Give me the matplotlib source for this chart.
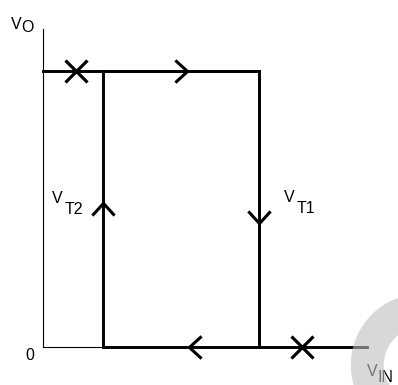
import matplotlib
matplotlib.use("Agg")
from matplotlib import pyplot as plt
from matplotlib.path import Path
from matplotlib.patches import Wedge

plt.rcParams['font.family'] = ['Liberation Sans', 'DejaVu Sans']

# Schmitt trigger hysteresis loop (arbitrary units)
vt2 = 2.0        # lower threshold V_T2
vt1 = 7.2        # upper threshold V_T1
v_high = 9.2     # output high
v_low = 0.0      # output low
x_end = 10.8     # end of V_IN axis
y_end = 10.6     # end of V_O axis

# loop path: up along left edge, right along top, down right edge, left along bottom
loop_x = [x_end, vt2, vt2, vt1, vt1]
loop_y = [v_low, v_low, v_high, v_high, v_low]
top_x = [0, vt1]
top_y = [v_high, v_high]

# crossed-out segments (X marks)
cross_x = [1.1, 8.63]
cross_y = [v_high, v_low]

# direction arrows
arr_right = (4.6, v_high)
arr_left = (5.07, v_low)
arr_up = (vt2, 4.6)
arr_down = (vt1, 4.33)

# labels: (main x, main y, main, sub x, sub y, sub)
labels = [
    (-1.08, 10.6, 'V', -0.72, 10.5, 'O'),
    (0.31, 4.8, 'V', 0.71, 4.43, 'T2'),
    (8.03, 4.83, 'V', 8.47, 4.47, 'T1'),
    (10.8, -0.95, 'V', 11.15, -1.17, 'IN'),
]

fig = plt.figure(figsize=(3.98, 3.85), dpi=100)
ax = fig.add_axes([0, 0, 1, 1])
ax.set_xlim(-43 / 30, 355 / 30)
ax.set_ylim(-38 / 30, 347 / 30)
ax.axis('off')

# axes
ax.plot([0, 0], [0, y_end], color='black', lw=0.8)
ax.plot([0, x_end], [0, 0], color='black', lw=0.8)

# loop
ax.plot(loop_x, loop_y, color='black', lw=2.1, solid_joinstyle='miter')
ax.plot(top_x, top_y, color='black', lw=2.1)

ax.plot(cross_x, cross_y, linestyle='none', marker='x', color='black',
        markersize=16, markeredgewidth=2.3)

codes = [Path.MOVETO, Path.LINETO, Path.LINETO]
chev = {
    'right': Path([(-0.55, 1), (0.55, 0), (-0.55, -1)], codes),
    'left': Path([(0.55, 1), (-0.55, 0), (0.55, -1)], codes),
    'up': Path([(-1, -0.55), (0, 0.55), (1, -0.55)], codes),
    'down': Path([(-1, 0.55), (0, -0.55), (1, 0.55)], codes),
}
for key, (x, y) in [('right', arr_right), ('left', arr_left),
                    ('up', arr_up), ('down', arr_down)]:
    ax.plot([x], [y], marker=chev[key], markersize=16, markeredgewidth=2.2,
            color='black', fillstyle='none', linestyle='none')

fs = 11.5
for mx, my, main, sx, sy, sub in labels:
    ax.text(mx, my, main, fontsize=fs, va='baseline')
    ax.text(sx, sy, sub, fontsize=fs, va='baseline')
ax.text(-0.43, -0.27, '0', fontsize=fs, ha='center', va='center')

# faint watermark ring in the corner
ax.add_patch(Wedge((12.63, -0.6), 2.37, 0, 360, width=1.1,
                   facecolor=(0.75, 0.75, 0.75), edgecolor='none',
                   alpha=0.6, zorder=10))

fig.savefig('out.png', dpi=100)
